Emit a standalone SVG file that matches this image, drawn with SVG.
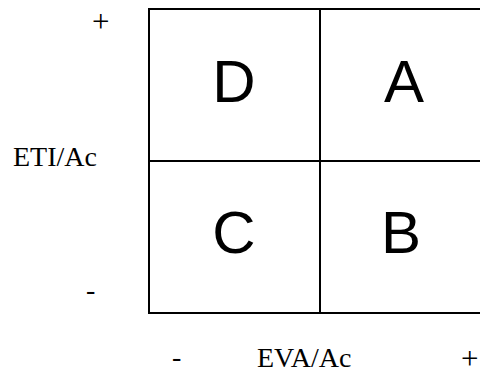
<svg xmlns="http://www.w3.org/2000/svg" width="480" height="371" viewBox="0 0 480 371">
<style>
.ln{stroke:#000;stroke-width:2;fill:none}
.q{font-family:"Liberation Sans",Arial,sans-serif;font-size:60px;text-anchor:middle;fill:#000}
.s{font-family:"Liberation Serif","Times New Roman",serif;font-size:28px;fill:#000}
.p{font-size:31px}
</style>
<rect width="480" height="371" fill="#fff"/>
<g id="connectors">
<line class="ln" x1="149" y1="9" x2="480" y2="9"/>
<line class="ln" x1="149" y1="161" x2="480" y2="161"/>
<line class="ln" x1="149" y1="313" x2="480" y2="313"/>
<line class="ln" x1="149" y1="8" x2="149" y2="314"/>
<line class="ln" x1="320" y1="9" x2="320" y2="313"/>
</g>
<g id="D"><text class="q" x="234" y="102">D</text></g>
<g id="A"><text class="q" x="404" y="102">A</text></g>
<g id="C"><text class="q" x="234" y="253">C</text></g>
<g id="B"><text class="q" x="401" y="253">B</text></g>
<g id="labels">
<text class="s p" x="92" y="32">+</text>
<text class="s" x="13" y="166">ETI/Ac</text>
<text class="s" x="86" y="299">-</text>
<text class="s" x="172" y="366">-</text>
<text class="s" x="257" y="367">EVA/Ac</text>
<text class="s p" x="461" y="369">+</text>
</g>
</svg>
